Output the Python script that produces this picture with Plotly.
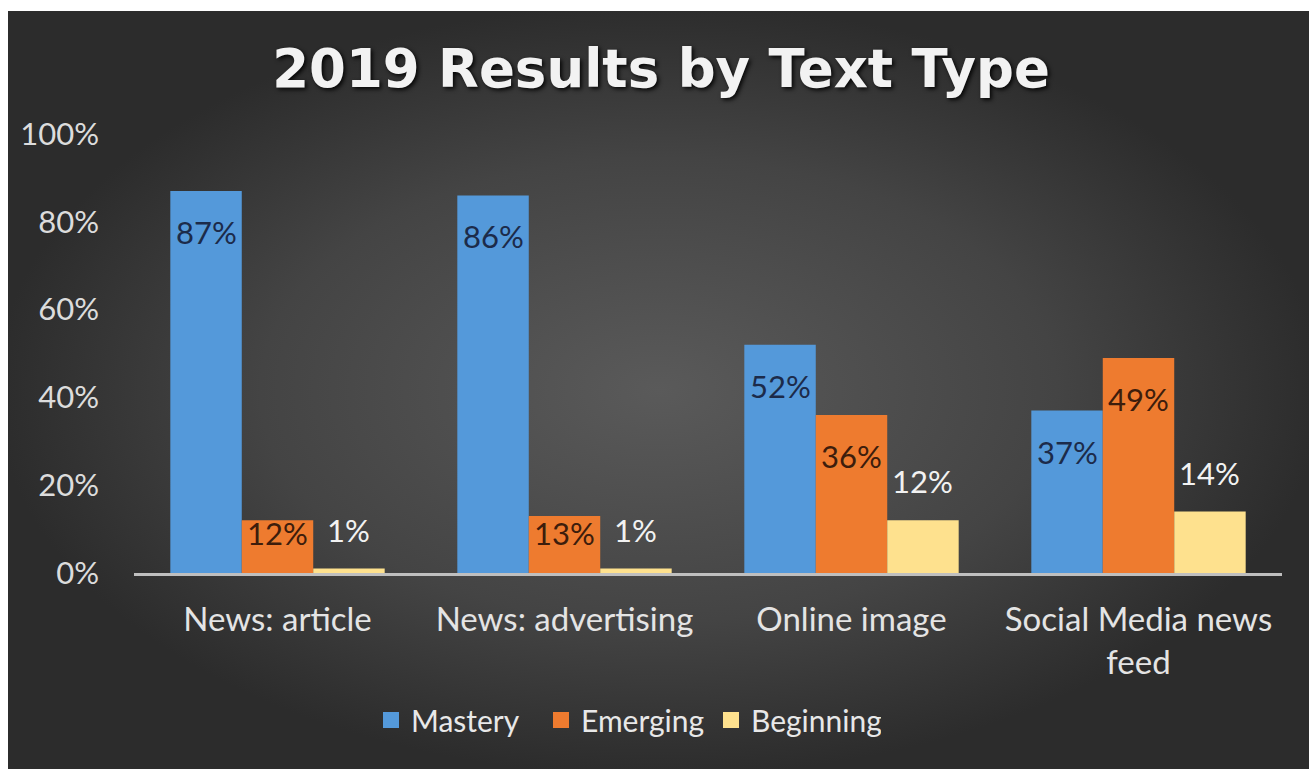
import plotly.graph_objects as go

# ---- data -------------------------------------------------------------
categories = ["News: article", "News: advertising", "Online image",
              "Social Media news<br>feed"]
series_names = ["Mastery", "Emerging", "Beginning"]
mastery = [0.87, 0.86, 0.52, 0.37]
emerging = [0.12, 0.13, 0.36, 0.49]
beginning = [0.01, 0.01, 0.12, 0.14]
y_ticks = [0.0, 0.2, 0.4, 0.6, 0.8, 1.0]

# ---- style ------------------------------------------------------------
W, H = 1309, 769
PL, PR, PT, PB = 134, 1282, 134, 573          # plot box in pixels
PX_PER_UNIT = PB - PT                          # pixels for 100 %
BAR_W = 0.249                                  # bar width in category units
FONT = "Lato"
EDGE = "#2c2c2c"

bar_colors = ["#5499da", "#ee7b2f", "#fee18e"]
label_colors = ["#1c2b4a", "#3d1d0c", "#f2f2f2"]
label_inside = [True, True, False]

fig = go.Figure()

# backdrop panel with a soft radial shade (drawn on the first subplot so it
# sits underneath the bars)
fig.add_trace(go.Scatter(
    x=[-0.01, 1.01, 1.01, -0.01, -0.01], y=[-0.01, -0.01, 1.01, 1.01, -0.01],
    mode="lines", line=dict(width=0), fill="toself",
    fillgradient=dict(type="radial",
                      colorscale=[[0, "#5a5a5a"], [0.6, "#444444"], [1, EDGE]]),
    hoverinfo="skip", showlegend=False, xaxis="x", yaxis="y"))

values = [mastery, emerging, beginning]
annotations = []
for k, (name, vals) in enumerate(zip(series_names, values)):
    xs = [i + (k - 1) * BAR_W for i in range(len(categories))]
    fig.add_trace(go.Bar(
        x=xs, y=vals, width=BAR_W, name=name,
        marker=dict(color=bar_colors[k], line=dict(width=0)),
        showlegend=False, xaxis="x2", yaxis="y2"))
    # legend entry with a larger square swatch
    fig.add_trace(go.Scatter(
        x=[None], y=[None], mode="markers", name=name,
        marker=dict(symbol="square", size=16, color=bar_colors[k]),
        xaxis="x2", yaxis="y2"))
    for x, v in zip(xs, vals):
        bar_px = v * PX_PER_UNIT
        if label_inside[k]:
            shift = -min(41, bar_px - 40)
        else:
            shift = 39
        annotations.append(dict(
            x=x, y=v, xref="x2", yref="y2", text=f"{round(v * 100)}%",
            showarrow=False, xanchor="center", yanchor="middle", yshift=shift,
            font=dict(family=FONT, size=31, color=label_colors[k])))

# thin white frame along the top and left edges
frame = [
    dict(type="rect", xref="paper", yref="paper", x0=0, x1=1, y0=1 - 11 / H, y1=1,
         fillcolor="white", line=dict(width=0), layer="below"),
    dict(type="rect", xref="paper", yref="paper", x0=0, x1=8 / W, y0=0, y1=1,
         fillcolor="white", line=dict(width=0), layer="below"),
]

fig.update_layout(
    width=W, height=H, autosize=False,
    margin=dict(l=0, r=0, t=0, b=0, pad=0, autoexpand=False),
    paper_bgcolor=EDGE, plot_bgcolor="rgba(0,0,0,0)",
    barmode="overlay",
    shapes=frame,
    title=dict(text="<b>2019 Results by Text Type</b>", x=0.505, y=1 - 68 / H,
               xanchor="center", yanchor="middle",
               font=dict(family="DejaVu Sans", size=53, color="#f2f2f2",
                         shadow="2px 2px 4px rgba(0,0,0,0.9)")),
    xaxis=dict(domain=[8 / W, 1], range=[0, 1], visible=False, fixedrange=True),
    yaxis=dict(domain=[0, 1 - 11 / H], range=[0, 1], visible=False, fixedrange=True),
    xaxis2=dict(domain=[PL / W, PR / W], range=[-0.5, len(categories) - 0.5],
                anchor="y2", tickmode="array",
                tickvals=list(range(len(categories))), ticktext=categories,
                showgrid=False, zeroline=False, showline=True,
                linecolor="#bfbfbf", linewidth=3, ticks="",
                ticklabelstandoff=15,
                tickfont=dict(family=FONT, size=33, color="#e4e4e4")),
    yaxis2=dict(domain=[1 - PB / H, 1 - PT / H], range=[0, 1], anchor="x2",
                tickmode="array", tickvals=y_ticks, tickformat=".0%",
                showgrid=False, zeroline=False, showline=False, ticks="",
                ticklabelstandoff=34,
                tickfont=dict(family=FONT, size=31, color="#dcdcdc")),
    legend=dict(orientation="h", x=626 / W, xanchor="center",
                y=1 - 720 / H, yanchor="middle", bgcolor="rgba(0,0,0,0)",
                entrywidth=125, entrywidthmode="pixels",
                font=dict(family=FONT, size=30, color="#e8e8e8")),
    annotations=annotations,
    showlegend=True,
)

fig.write_html(
    "out.html",
    config={"responsive": False},
    post_script=(
        "document.body.style.margin='0';document.body.style.padding='0';"
        "document.body.style.overflow='hidden';"
        "document.documentElement.style.overflow='hidden';"
    ),
)
